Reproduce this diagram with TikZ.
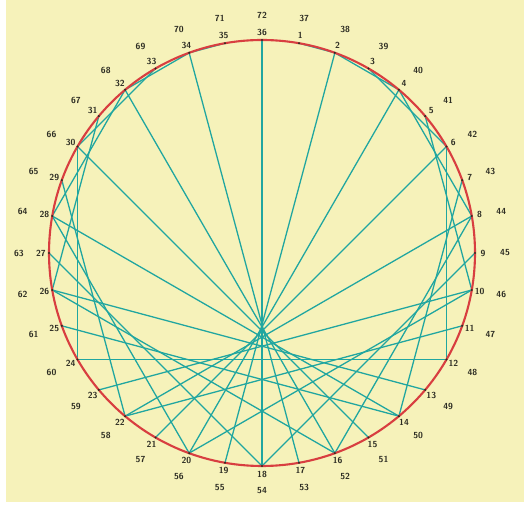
\documentclass[tikz,border=0pt]{standalone}
\usepackage{tikz}
\usetikzlibrary{calc}
\definecolor{paper}{RGB}{246,242,186}
\definecolor{rimred}{RGB}{216,62,64}
\definecolor{chordteal}{RGB}{32,166,160}
\definecolor{numgray}{RGB}{45,45,35}

\begin{document}
\begin{tikzpicture}[x=0.03cm, y=0.03cm,
    chord/.style={chordteal, line width=1.1pt},
    rim/.style={rimred, line width=1.8pt},
    num/.style={numgray, font=\sffamily\bfseries\fontsize{7.5}{8}\selectfont, inner sep=0pt}]
    \useasboundingbox (0,0) rectangle (524,506);
    \fill[white] (0,0) rectangle (524,506);
    \fill[paper] (6,4) rectangle (524,506);
    \coordinate (c) at (262,253);
    % points round the circle, 36 at the top
    \foreach \i in {1,...,36}
        \coordinate (p\i) at ($(c)+({90-10*\i}:213)$);
    % chords i -> 2i mod 36 (24 -> 12 is the same chord as 12 -> 24)
    \foreach \i in {1,...,35} {
        \pgfmathtruncatemacro{\j}{mod(2*\i-1,36)+1}
        \ifnum\i=24\else
            \draw[chord] (p\i) -- (p\j);
        \fi
    }
    \draw[rim] (c) circle (213);
    % dots and the two rings of numbers
    \foreach \i in {1,...,36} {
        \pgfmathtruncatemacro{\k}{\i+36}
        \fill[numgray] (p\i) circle (1.2);
        \node[num] (n\i) at ($(c)+({90-10*\i}:221)$) {\i};
        \node[num] (m\i) at ($(n\i)+({90-10*\i}:22 and 17)$) {\k};
    }
\end{tikzpicture}
\end{document}
